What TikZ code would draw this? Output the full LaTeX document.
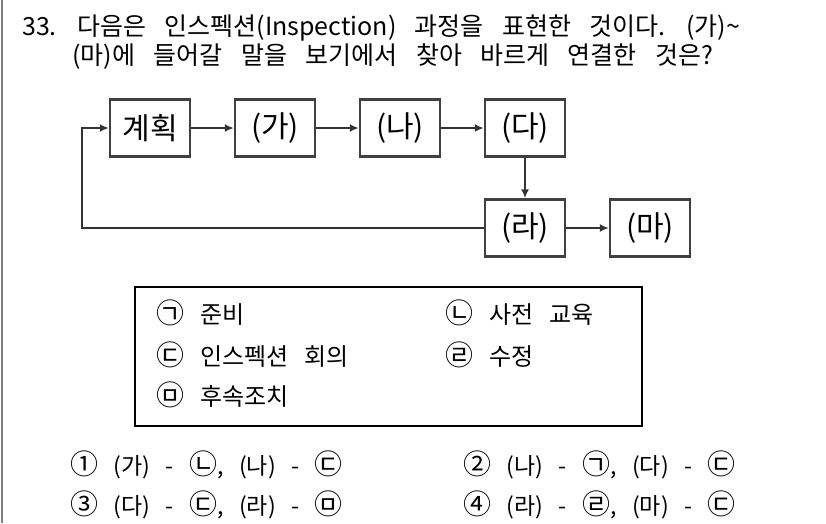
\documentclass[tikz,border=0pt]{standalone}
\usepackage{fontspec}
\setmainfont{Noto Sans CJK KR}[WordSpace=3]
\newfontfamily\qfont{Noto Sans CJK KR}[WordSpace=3.3]
\usetikzlibrary{arrows.meta}

% enlarged circled marks
\newcommand{\mk}[1]{{\fontsize{28}{28}\selectfont #1}}

\begin{document}
\begin{tikzpicture}[x=1pt,y=-1pt,
    procbox/.style={draw=black!75, line width=2.4pt, minimum width=80pt, minimum height=57pt, inner sep=0pt, font=\fontsize{30}{30}\selectfont},
    flow/.style={draw=black!80, line width=2.3pt, -{Latex[length=9pt,width=8pt]}},
    qtext/.style={anchor=west, inner sep=0pt, font=\qfont\fontsize{25}{25}\selectfont},
    bogiitem/.style={anchor=west, inner sep=0pt, font=\fontsize{24}{24}\selectfont},
    choice/.style={anchor=west, inner sep=0pt, font=\fontsize{23}{23}\selectfont}]

    \useasboundingbox (0,0) rectangle (826,523);

    % Left margin rule of the page
    \draw[black!50, line width=1.2pt] (2,0) -- (2,523);

    % Question text
    \node[qtext] (q1) at (22,28) {33. 다음은 인스펙션(Inspection) 과정을 표현한 것이다. (가)\symbol{"7E}};
    \node[qtext] (q2) at (72,57) {(마)에 들어갈 말을 보기에서 찾아 바르게 연결한 것은?};

    % Process boxes
    \node[procbox] (plan) at (150,128) {계획};
    \node[procbox] (ga) at (275,128) {(가)};
    \node[procbox] (na) at (400,128) {(나)};
    \node[procbox] (da) at (525,128) {(다)};
    \node[procbox] (ra) at (525,228) {(라)};
    \node[procbox] (ma) at (650,228) {(마)};

    % Flow arrows
    \draw[flow] (plan) -- (ga);
    \draw[flow] (ga) -- (na);
    \draw[flow] (na) -- (da);
    \draw[flow] (da) -- (ra);
    \draw[flow] (ra) -- (ma);

    % Feedback loop back to the plan
    \coordinate (back) at (82,228);
    \draw[flow] (ra.west) -- (back) |- (plan.west);

    % Answer pool (bogi)
    \draw[black, line width=1.6pt] (135,287) rectangle (642,426);
    \node[bogiitem] (b1) at (156,313) {\mk{㉠} 준비};
    \node[bogiitem] (b2) at (445,313) {\mk{㉡} 사전 교육};
    \node[bogiitem] (b3) at (156,355) {\mk{㉢} 인스펙션 회의};
    \node[bogiitem] (b4) at (445,355) {\mk{㉣} 수정};
    \node[bogiitem] (b5) at (156,395) {\mk{㉤} 후속조치};

    % Choices
    \node[choice] (c1) at (70,465) {\mk{①} (가) - \mk{㉡}, (나) - \mk{㉢}};
    \node[choice] (c2) at (463,465) {\mk{②} (나) - \mk{㉠}, (다) - \mk{㉢}};
    \node[choice] (c3) at (70,505) {\mk{③} (다) - \mk{㉢}, (라) - \mk{㉤}};
    \node[choice] (c4) at (463,505) {\mk{④} (라) - \mk{㉣}, (마) - \mk{㉢}};

\end{tikzpicture}
\end{document}
